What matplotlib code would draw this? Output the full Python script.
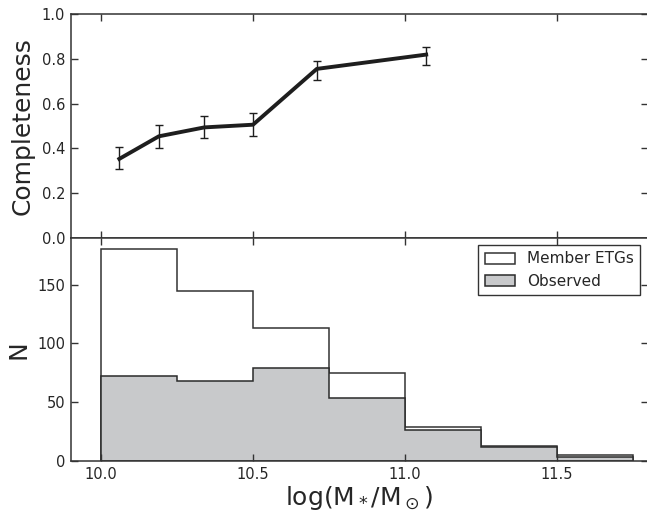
import numpy as np
import matplotlib
matplotlib.use("Agg")
import matplotlib.pyplot as plt

# ---- data ----
comp_mass = [10.06, 10.19, 10.34, 10.50, 10.71, 11.07]
completeness = [0.353, 0.454, 0.494, 0.506, 0.756, 0.820]
comp_err_lo = [0.045, 0.053, 0.049, 0.052, 0.051, 0.046]
comp_err_hi = [0.054, 0.049, 0.051, 0.051, 0.036, 0.033]

bin_edges = [10.0, 10.25, 10.5, 10.75, 11.0, 11.25, 11.5, 11.75]
member_counts = [180, 145, 113, 75, 29, 13, 5]
observed_counts = [72, 68, 79, 54, 26, 12, 3]

xticks = [10.0, 10.5, 11.0, 11.5]
top_yticks = [0.0, 0.2, 0.4, 0.6, 0.8, 1.0]
bot_yticks = [0, 50, 100, 150]

# ---- style ----
plt.rcParams['font.family'] = ['DejaVu Sans']
plt.rcParams['mathtext.default'] = 'regular'
txt = '#262626'
spine_c = '#333333'

W, H = 647, 514
fig = plt.figure(figsize=(W / 100, H / 100), dpi=100)
left = 70.7 / W
width = (648.0 - 70.7) / W
ph = 223.3 / H
ax1 = fig.add_axes([left, 1 - 237.7 / H, width, ph])
ax2 = fig.add_axes([left, 1 - 461.0 / H, width, ph], sharex=ax1)

for ax in (ax1, ax2):
    for s in ax.spines.values():
        s.set_color(spine_c)
        s.set_linewidth(1.1)
    ax.tick_params(direction='in', top=True, right=True, length=5, width=1,
                   color=spine_c, labelcolor=txt, labelsize=10.5, pad=4)

# top panel
mids = np.array(comp_mass)
ax1.errorbar(mids, completeness, yerr=[comp_err_lo, comp_err_hi],
             color='#1e1e1e', lw=2.8, elinewidth=1.0, capsize=2.8,
             capthick=1.0, ecolor='#1e1e1e')
ax1.set_ylim(0, 1.0)
ax1.set_yticks(top_yticks)
ax1.set_yticklabels([f"{v:.1f}" for v in top_yticks])
ax1.set_xlim(9.9, 11.8)
ax1.set_xticks(xticks)
ax1.tick_params(labelbottom=False)
ax1.set_ylabel('Completeness', fontsize=18, color=txt, labelpad=5)

# bottom panel
centers = [(bin_edges[i] + bin_edges[i + 1]) / 2 for i in range(len(member_counts))]
ax2.hist(centers, bins=bin_edges, weights=member_counts, histtype='stepfilled',
         facecolor='white', edgecolor='#333333', linewidth=1.1, label='Member ETGs')
ax2.hist(centers, bins=bin_edges, weights=observed_counts, histtype='stepfilled',
         facecolor='#c8c9cb', edgecolor='#2a2a2a', linewidth=1.1, label='Observed')
ax2.set_ylim(0, 190)
ax2.set_yticks(bot_yticks)
ax2.set_xlim(9.9, 11.8)
ax2.set_xticks(xticks)
ax2.set_xticklabels([f"{v:.1f}" for v in xticks])
ax2.set_ylabel('N', fontsize=18, color=txt, labelpad=5)
ax2.set_xlabel(r'log(M$_*$/M$_\odot$)', fontsize=18, color=txt, labelpad=2)

leg = ax2.legend(loc='upper right', fontsize=11, fancybox=False, framealpha=1,
                 edgecolor='#333333', handlelength=2.0, handleheight=0.75,
                 borderaxespad=0.5, labelspacing=0.5)
leg.get_frame().set_linewidth(1.0)
for t in leg.get_texts():
    t.set_color(txt)

fig.savefig('out.png', dpi=100, facecolor='white')
